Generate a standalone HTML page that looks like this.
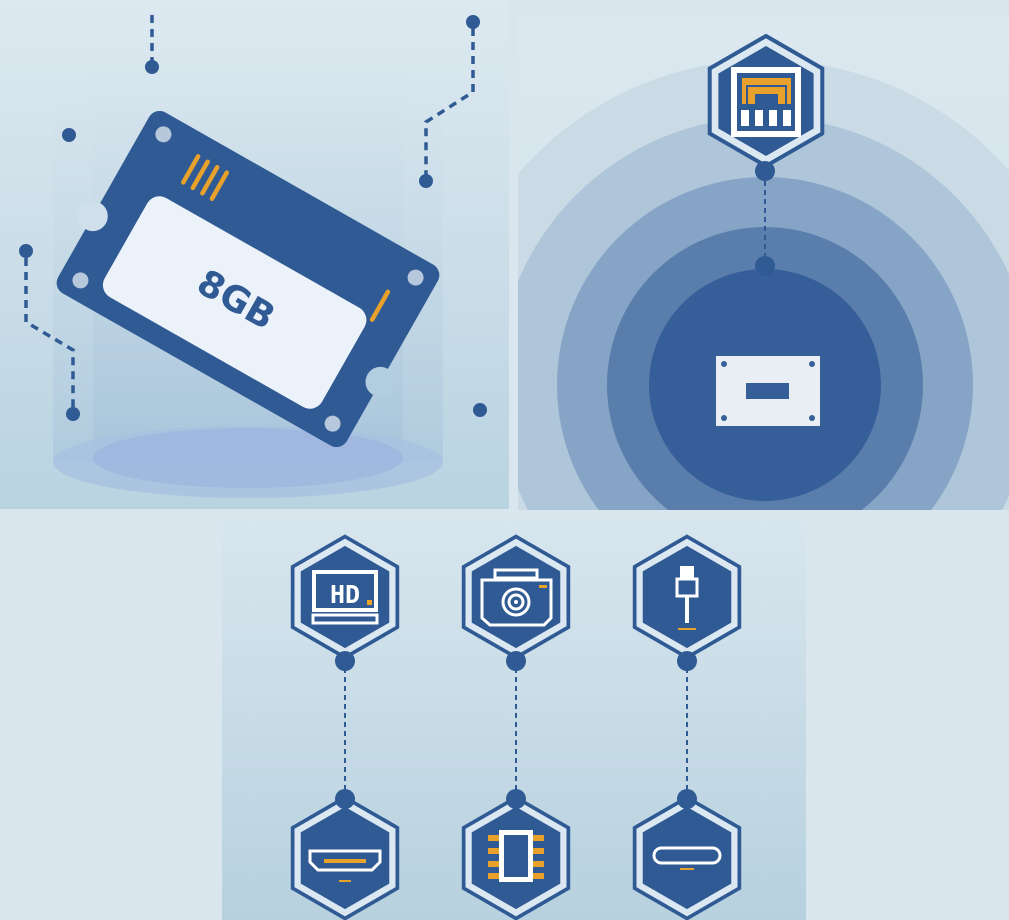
<!DOCTYPE html>
<html><head><meta charset="utf-8"><style>
html,body{margin:0;padding:0;background:#d9e6ee;}
svg{display:block;}
</style></head><body>
<svg width="1009" height="920" viewBox="0 0 1009 920" xmlns="http://www.w3.org/2000/svg">
<defs>
<linearGradient id="gl" x1="0" y1="0" x2="0" y2="1"><stop offset="0" stop-color="#dde9f0"/><stop offset="1" stop-color="#b9d3e1"/></linearGradient>
<linearGradient id="gb" x1="0" y1="0" x2="0" y2="1"><stop offset="0" stop-color="#d8e6ee"/><stop offset="1" stop-color="#b7d1df"/></linearGradient>
<linearGradient id="gr" x1="0" y1="0" x2="0" y2="1"><stop offset="0" stop-color="#dce8ef"/><stop offset="1" stop-color="#cfe0ea"/></linearGradient>
<linearGradient id="cyl" x1="0" y1="0" x2="0" y2="1"><stop offset="0" stop-color="#c5d9e6" stop-opacity="0"/><stop offset="1" stop-color="#9ab8d6" stop-opacity="0.6"/></linearGradient>
<g id="hex">
<polygon points="0,-65 56.3,-32.5 56.3,32.5 0,65 -56.3,32.5 -56.3,-32.5" fill="#dbe8f2" stroke="#2f5a94" stroke-width="4"/>
<polygon points="0,-55 47.6,-27.5 47.6,27.5 0,55 -47.6,27.5 -47.6,-27.5" fill="#2f5a94"/>
</g>
<clipPath id="cr"><rect x="518" y="16" width="491" height="494"/></clipPath>
</defs>
<rect width="1009" height="920" fill="#d9e6ee"/>
<rect x="0" y="0" width="509" height="509" fill="url(#gl)"/>
<rect x="53" y="60" width="390" height="402" fill="url(#cyl)" opacity="0.6"/>
<rect x="93" y="60" width="310" height="400" fill="url(#cyl)" opacity="0.6"/>
<ellipse cx="248" cy="462" rx="195" ry="36" fill="#a8c0e0" opacity="0.8"/>
<ellipse cx="248" cy="458" rx="155" ry="30" fill="#9db5df" opacity="0.8"/>
<g fill="none" stroke="#2f5a94" stroke-width="3.5" stroke-dasharray="8,6">
<path d="M152 15 V62"/>
<path d="M473 28 V92 L426 122 V176"/>
<path d="M26 258 V322 L73 350 V408"/>
</g>
<g fill="#2f5a94">
<circle cx="152" cy="67" r="7"/><circle cx="473" cy="22" r="7"/><circle cx="426" cy="181" r="7"/>
<circle cx="69" cy="135" r="7"/><circle cx="26" cy="251" r="7"/><circle cx="73" cy="414" r="7"/><circle cx="480" cy="410" r="7"/>
</g>
<g transform="translate(248,279) rotate(29.6)">
<rect x="-166" y="-104" width="332" height="208" rx="12" fill="#2f5a94"/>
<circle cx="-166" cy="22" r="15" fill="#cfe0ea"/>
<circle cx="166" cy="24" r="15" fill="#b3cde0"/>
<circle cx="-145" cy="-84" r="8" fill="#b8c8dc"/><circle cx="-145" cy="84" r="8" fill="#b8c8dc"/>
<circle cx="145" cy="-84" r="8" fill="#b8c8dc"/><circle cx="145" cy="84" r="8" fill="#b8c8dc"/>
<rect x="-125" y="-30" width="250" height="114" rx="14" fill="#ecf2f9"/>
<g stroke="#e8a22c" stroke-width="4.5" stroke-linecap="round">
<line x1="-104" y1="-82" x2="-104" y2="-52"/><line x1="-93" y1="-82" x2="-93" y2="-52"/><line x1="-82" y1="-82" x2="-82" y2="-52"/><line x1="-71" y1="-82" x2="-71" y2="-52"/>
<line x1="128" y1="-58" x2="128" y2="-26"/>
</g>
<text x="0" y="36" text-anchor="middle" font-family="'DejaVu Sans','Liberation Sans',sans-serif" font-weight="bold" font-size="36" fill="#2f5a94">8GB</text>
</g>
<rect x="518" y="16" width="491" height="494" fill="url(#gr)"/>
<g clip-path="url(#cr)">
<circle cx="765" cy="385" r="325" fill="#cbdbe6"/>
<circle cx="765" cy="385" r="268" fill="#afc6da"/>
<circle cx="765" cy="385" r="208" fill="#86a4c5"/>
<circle cx="765" cy="385" r="158" fill="#5a7eac"/>
<circle cx="765" cy="385" r="116" fill="#365f9a"/>
</g>
<rect x="716" y="356" width="104" height="70" fill="#e9eef4"/>
<rect x="746" y="383" width="43" height="16" fill="#365f9a"/>
<g fill="#365f9a"><circle cx="724" cy="364" r="3"/><circle cx="812" cy="364" r="3"/><circle cx="724" cy="418" r="3"/><circle cx="812" cy="418" r="3"/></g>
<line x1="765" y1="172" x2="765" y2="262" stroke="#2f5a94" stroke-width="2" stroke-dasharray="5,4"/>
<use href="#hex" transform="translate(766,101)"/>
<rect x="734" y="70" width="64" height="64" fill="none" stroke="#fff" stroke-width="6"/>
<path d="M742 78 H791 V104 H778 V94 H755 V104 H742 Z" fill="#e8a22c"/>
<path d="M747 104 V86 H786 V104" fill="none" stroke="#2f5a94" stroke-width="2"/>
<g fill="#fff"><rect x="741" y="110" width="8" height="16"/><rect x="755" y="110" width="8" height="16"/><rect x="769" y="110" width="8" height="16"/><rect x="783" y="110" width="8" height="16"/></g>
<circle cx="765" cy="171" r="10" fill="#2f5a94"/>
<circle cx="765" cy="266" r="10" fill="#2f5a94"/>
<rect x="222" y="515" width="584" height="405" fill="url(#gb)"/>
<g stroke="#2f5a94" stroke-width="2" stroke-dasharray="5,4">
<line x1="345" y1="668" x2="345" y2="790"/><line x1="516" y1="668" x2="516" y2="790"/><line x1="687" y1="668" x2="687" y2="790"/>
</g>
<use href="#hex" transform="translate(345,597) scale(0.93)"/>
<use href="#hex" transform="translate(516,597) scale(0.93)"/>
<use href="#hex" transform="translate(687,597) scale(0.93)"/>
<use href="#hex" transform="translate(345,858) scale(0.93)"/>
<use href="#hex" transform="translate(516,858) scale(0.93)"/>
<use href="#hex" transform="translate(687,858) scale(0.93)"/>
<rect x="314" y="572" width="62" height="38" fill="none" stroke="#fff" stroke-width="4"/>
<text x="345" y="603" text-anchor="middle" font-family="'DejaVu Sans Mono','Liberation Mono',monospace" font-weight="bold" font-size="25" fill="#fff">HD</text>
<rect x="367" y="600" width="5" height="5" fill="#e8a22c"/>
<rect x="313" y="615" width="64" height="8" fill="none" stroke="#fff" stroke-width="3"/>
<rect x="495" y="570" width="42" height="8" fill="none" stroke="#fff" stroke-width="3"/>
<path d="M482 580 H551 V618 L544 625 H490 L482 618 Z" fill="none" stroke="#fff" stroke-width="3"/>
<circle cx="516" cy="602" r="13" fill="none" stroke="#fff" stroke-width="3"/>
<circle cx="516" cy="602" r="7" fill="none" stroke="#fff" stroke-width="3"/>
<circle cx="516" cy="602" r="2" fill="#fff"/>
<rect x="539" y="585" width="8" height="3" fill="#e8a22c"/>
<rect x="680" y="566" width="14" height="12" fill="#fff"/>
<rect x="677" y="579" width="20" height="17" fill="none" stroke="#fff" stroke-width="3"/>
<rect x="685" y="596" width="4" height="27" fill="#fff"/>
<rect x="678" y="628" width="18" height="2" fill="#e8a22c"/>
<path d="M310 851 H380 V862 L372 870 H318 L310 862 Z" fill="none" stroke="#fff" stroke-width="3"/>
<rect x="324" y="859" width="42" height="4" fill="#e8a22c"/>
<rect x="339" y="880" width="12" height="2" fill="#e8a22c"/>
<g fill="#e8a22c"><rect x="488" y="835" width="56" height="6"/><rect x="488" y="848" width="56" height="6"/><rect x="488" y="861" width="56" height="6"/><rect x="488" y="873" width="56" height="6"/></g>
<rect x="499" y="830" width="34" height="52" fill="#fff"/>
<rect x="504" y="835" width="24" height="42" fill="#2f5a94"/>
<rect x="654" y="848" width="66" height="15" rx="7.5" fill="none" stroke="#fff" stroke-width="3"/>
<rect x="680" y="868" width="14" height="2" fill="#e8a22c"/>
<g fill="#2f5a94">
<circle cx="345" cy="661" r="10"/><circle cx="516" cy="661" r="10"/><circle cx="687" cy="661" r="10"/>
<circle cx="345" cy="799" r="10"/><circle cx="516" cy="799" r="10"/><circle cx="687" cy="799" r="10"/>
</g>
</svg>
</body></html>
